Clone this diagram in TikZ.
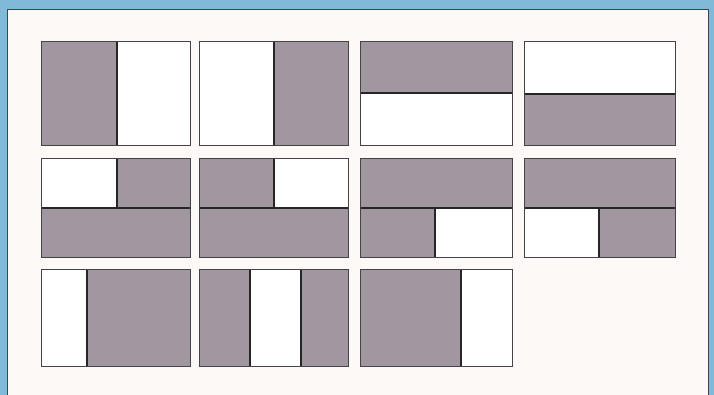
\documentclass[tikz,border=0pt]{standalone}
\definecolor{bluebg}{RGB}{128,186,216}
\definecolor{panel}{RGB}{252,249,247}
\definecolor{shade}{RGB}{160,151,160}
\definecolor{edge}{RGB}{70,66,70}
\tikzset{
  outline/.style={draw=edge, line width=0.8pt},
  divider/.style={draw=black!85, line width=1.8pt},
  gray/.style={fill=shade},
  white/.style={fill=white},
}
\begin{document}
\begin{tikzpicture}[x=1pt,y=-1pt]
\useasboundingbox (0,0) rectangle (714,395);
\fill[bluebg] (0,0) rectangle (714,395);
\fill[panel] (7,9) rectangle (708,400);
\draw[edge, line width=0.8pt] (7,400) -- (7,9) -- (708,9) -- (708,400);
% Row 1
\fill[gray] (41,41) rectangle (117,145);
\fill[white] (117,41) rectangle (190,145);
\draw[divider] (117,41) -- (117,145);
\draw[outline] (41,41) rectangle (190,145);

\fill[white] (199,41) rectangle (274,145);
\fill[gray] (274,41) rectangle (348,145);
\draw[divider] (274,41) -- (274,145);
\draw[outline] (199,41) rectangle (348,145);

\fill[gray] (360,41) rectangle (512,93);
\fill[white] (360,93) rectangle (512,145);
\draw[divider] (360,93) -- (512,93);
\draw[outline] (360,41) rectangle (512,145);

\fill[white] (524,41) rectangle (675,94);
\fill[gray] (524,94) rectangle (675,145);
\draw[divider] (524,94) -- (675,94);
\draw[outline] (524,41) rectangle (675,145);
% Row 2
\fill[white] (41,158) rectangle (117,208);
\fill[gray] (117,158) rectangle (190,208);
\fill[gray] (41,208) rectangle (190,257);
\draw[divider] (117,158) -- (117,208);
\draw[divider] (41,208) -- (190,208);
\draw[outline] (41,158) rectangle (190,257);

\fill[gray] (199,158) rectangle (274,208);
\fill[white] (274,158) rectangle (348,208);
\fill[gray] (199,208) rectangle (348,257);
\draw[divider] (274,158) -- (274,208);
\draw[divider] (199,208) -- (348,208);
\draw[outline] (199,158) rectangle (348,257);

\fill[gray] (360,158) rectangle (512,208);
\fill[gray] (360,208) rectangle (435,257);
\fill[white] (435,208) rectangle (512,257);
\draw[divider] (435,208) -- (435,257);
\draw[divider] (360,208) -- (512,208);
\draw[outline] (360,158) rectangle (512,257);

\fill[gray] (524,158) rectangle (675,208);
\fill[white] (524,208) rectangle (599,257);
\fill[gray] (599,208) rectangle (675,257);
\draw[divider] (599,208) -- (599,257);
\draw[divider] (524,208) -- (675,208);
\draw[outline] (524,158) rectangle (675,257);
% Row 3
\fill[white] (41,269) rectangle (87,366);
\fill[gray] (87,269) rectangle (190,366);
\draw[divider] (87,269) -- (87,366);
\draw[outline] (41,269) rectangle (190,366);

\fill[gray] (199,269) rectangle (250,366);
\fill[white] (250,269) rectangle (301,366);
\fill[gray] (301,269) rectangle (348,366);
\draw[divider] (250,269) -- (250,366);
\draw[divider] (301,269) -- (301,366);
\draw[outline] (199,269) rectangle (348,366);

\fill[gray] (360,269) rectangle (461,366);
\fill[white] (461,269) rectangle (512,366);
\draw[divider] (461,269) -- (461,366);
\draw[outline] (360,269) rectangle (512,366);
\end{tikzpicture}
\end{document}
